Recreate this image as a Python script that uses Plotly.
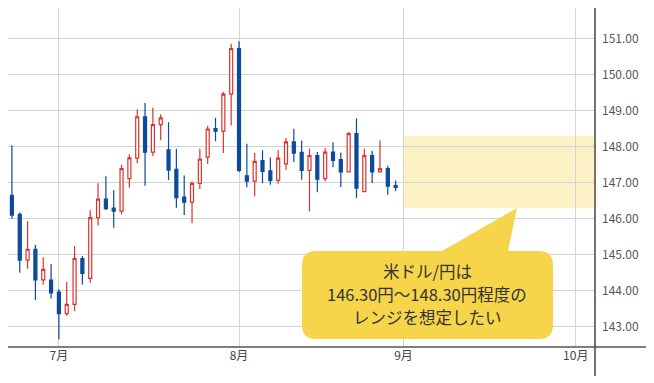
import plotly.graph_objects as go

dates = [
    "2025-06-23", "2025-06-24", "2025-06-25", "2025-06-26", "2025-06-27", "2025-06-30",
    "2025-07-01", "2025-07-02", "2025-07-03", "2025-07-04", "2025-07-07", "2025-07-08",
    "2025-07-09", "2025-07-10", "2025-07-11", "2025-07-14", "2025-07-15", "2025-07-16",
    "2025-07-17", "2025-07-18", "2025-07-21", "2025-07-22", "2025-07-23", "2025-07-24",
    "2025-07-25", "2025-07-28", "2025-07-29", "2025-07-30", "2025-07-31", "2025-08-01",
    "2025-08-04", "2025-08-05", "2025-08-06", "2025-08-07", "2025-08-08", "2025-08-11",
    "2025-08-12", "2025-08-13", "2025-08-14", "2025-08-15", "2025-08-18", "2025-08-19",
    "2025-08-20", "2025-08-21", "2025-08-22", "2025-08-25", "2025-08-26", "2025-08-27",
    "2025-08-28", "2025-08-29",
]
opens = [
    146.66, 146.13, 144.86, 145.16, 144.31, 144.30,
    143.97, 143.37, 143.63, 144.90, 144.35, 146.04,
    146.55, 146.30, 146.22, 147.12, 147.69, 148.84,
    147.86, 148.62, 147.92, 147.38, 146.61, 146.47,
    146.99, 147.72, 148.51, 148.44, 149.47, 150.73,
    147.20, 147.05, 147.62, 147.34, 147.07, 147.53,
    148.14, 147.85, 147.35, 147.76, 147.12, 147.86,
    147.65, 147.31, 148.37, 146.76, 147.76, 147.31,
    147.40, 146.93,
]
highs = [
    148.05, 146.18, 145.94, 145.28, 144.94, 144.75,
    144.05, 144.25, 145.25, 144.97, 146.24, 146.99,
    147.19, 146.80, 147.51, 147.80, 149.05, 149.22,
    149.09, 148.91, 148.69, 147.95, 147.21, 147.04,
    147.95, 148.59, 148.81, 149.53, 150.87, 150.94,
    148.09, 147.83, 147.91, 147.71, 147.91, 148.25,
    148.51, 148.18, 147.95, 147.86, 147.97, 148.13,
    147.85, 148.41, 148.79, 147.95, 147.89, 148.19,
    147.48, 147.07,
]
lows = [
    146.01, 144.51, 144.62, 143.75, 144.18, 143.79,
    142.66, 143.31, 143.44, 144.18, 144.23, 145.82,
    146.25, 145.76, 146.13, 146.87, 147.55, 146.92,
    147.75, 148.19, 147.08, 146.31, 146.11, 145.88,
    146.83, 147.53, 148.16, 147.83, 148.60, 147.30,
    146.88, 146.63, 147.00, 146.95, 146.98, 147.37,
    147.58, 147.09, 146.21, 146.74, 147.05, 147.44,
    146.89, 147.30, 146.58, 146.74, 147.00, 147.30,
    146.67, 146.77,
]
closes = [
    146.11, 144.86, 145.16, 144.31, 144.60, 143.95,
    143.37, 143.63, 144.90, 144.49, 146.04, 146.55,
    146.29, 146.22, 147.40, 147.70, 148.84, 147.86,
    148.62, 148.81, 147.36, 146.59, 146.47, 146.99,
    147.66, 148.50, 148.44, 149.47, 150.73, 147.35,
    147.05, 147.60, 147.32, 147.07, 147.69, 148.14,
    147.83, 147.35, 147.76, 147.11, 147.86, 147.63,
    147.31, 148.37, 146.86, 147.76, 147.31, 147.40,
    146.91, 146.88,
]

month_ticks = ["2025-07-01", "2025-08-01", "2025-09-01", "2025-10-01"]
month_labels = ["7月", "8月", "9月", "10月"]
y_ticks = [143, 144, 145, 146, 147, 148, 149, 150, 151]
range_low, range_high = 146.30, 148.30
callout_lines = ["米ドル/円は", "146.30円～148.30円程度の", "レンジを想定したい"]

RED = "#d9342f"
BLUE = "#0c4a9b"
FONT = "Noto Sans CJK JP"

W, H = 654, 383
L, R, T, B = 8, 595, 8, 347


def px(x):
    return (x - L) / (R - L)


def py(y):
    return (B - y) / (B - T)


fig = go.Figure()
fig.add_trace(go.Candlestick(
    x=dates, open=opens, high=highs, low=lows, close=closes,
    increasing=dict(line=dict(color=RED, width=1.2), fillcolor="#ffffff"),
    decreasing=dict(line=dict(color=BLUE, width=1.2), fillcolor=BLUE),
    whiskerwidth=0, showlegend=False, hoverinfo="skip",
))

# expected range band
fig.add_shape(type="rect", xref="x", yref="y",
              x0="2025-09-01", x1="2025-10-03 11:00",
              y0=range_low, y1=range_high,
              fillcolor="#fcf1c5", line=dict(width=0), layer="below")

# callout bubble
bx0, bx1, by0, by1, r = 302, 553, 251, 339, 14
tip = (517, 208)
pts = [
    ("M", [(bx0 + r, by0)]),
    ("L", [(442, by0)]),
    ("L", [tip]),
    ("L", [(508, by0)]),
    ("L", [(bx1 - r, by0)]),
    ("Q", [(bx1, by0), (bx1, by0 + r)]),
    ("L", [(bx1, by1 - r)]),
    ("Q", [(bx1, by1), (bx1 - r, by1)]),
    ("L", [(bx0 + r, by1)]),
    ("Q", [(bx0, by1), (bx0, by1 - r)]),
    ("L", [(bx0, by0 + r)]),
    ("Q", [(bx0, by0), (bx0 + r, by0)]),
]
path = ""
for cmd, ps in pts:
    path += cmd + " " + " ".join(f"{px(a):.5f},{py(b):.5f}" for a, b in ps) + " "
path += "Z"
fig.add_shape(type="path", xref="paper", yref="paper", path=path,
              fillcolor="#f6d54b", line=dict(width=0), layer="above")

for i, line in enumerate(callout_lines):
    fig.add_annotation(xref="paper", yref="paper", x=px(427.5), y=py(271 + 23 * i),
                       text=line, showarrow=False,
                       xanchor="center", yanchor="middle",
                       font=dict(family=FONT, size=16.5, color="#333333"))

# axis frame lines
fig.add_shape(type="line", xref="paper", yref="paper",
              x0=px(8), x1=px(646), y0=0, y1=0,
              line=dict(color="#555555", width=1.5), layer="above")
fig.add_shape(type="line", xref="paper", yref="paper",
              x0=1, x1=1, y0=py(T), y1=py(376),
              line=dict(color="#444444", width=1.5), layer="above")

fig.update_layout(
    width=W, height=H,
    margin=dict(l=L, r=W - R, t=T, b=H - B),
    paper_bgcolor="#ffffff", plot_bgcolor="#ffffff",
    boxgap=0.45,
    font=dict(family=FONT),
    xaxis=dict(
        type="date",
        range=["2025-06-20 12:00", "2025-10-03 11:00"],
        rangebreaks=[dict(bounds=["sat", "mon"])],
        rangeslider=dict(visible=False),
        tickmode="array", tickvals=month_ticks, ticktext=month_labels,
        showgrid=True, gridcolor="#d4d4d4", gridwidth=1,
        showline=False, zeroline=False, ticks="",
        tickfont=dict(family=FONT, size=12, color="#444444"),
        fixedrange=True,
    ),
    yaxis=dict(
        side="right",
        range=[142.444, 151.861],
        tickmode="array", tickvals=y_ticks, tickformat=".2f",
        showgrid=True, gridcolor="#d4d4d4", gridwidth=1,
        showline=False, zeroline=False, ticks="",
        ticklabelstandoff=6,
        tickfont=dict(family=FONT, size=12, color="#555555"),
        fixedrange=True,
    ),
)

fig.write_html("out.html",
               config={"displayModeBar": False, "staticPlot": True},
               post_script="document.body.style.margin='0';document.body.style.overflow='hidden';")
